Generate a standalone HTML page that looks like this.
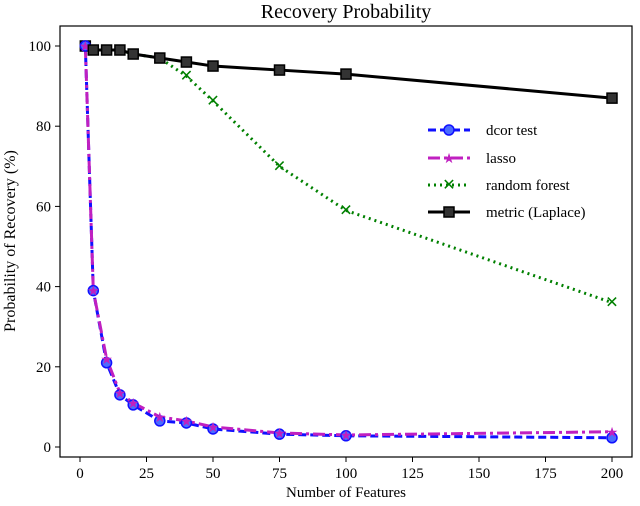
<!DOCTYPE html>
<html><head><meta charset="utf-8"><style>
body{margin:0;background:#fff}
svg text{font-family:"Liberation Serif",serif;fill:#000}
</style></head><body>
<svg id="c" width="640" height="501">
<text x="346" y="18" font-size="20" text-anchor="middle">Recovery Probability</text>
<rect x="60" y="26" width="572" height="431" fill="none" stroke="#000" stroke-width="1.2"/>
<text x="346" y="497" font-size="15" text-anchor="middle">Number of Features</text>
<text transform="translate(15,241) rotate(-90)" font-size="16" text-anchor="middle">Probability of Recovery (%)</text>
<g id="ax"></g><g id="series"></g>
<g font-size="15">
<line x1="428" y1="130" x2="470" y2="130" stroke="#1010ff" stroke-width="3" stroke-dasharray="8,4"/><circle cx="449" cy="130" r="5" fill="#4a6cff" stroke="#1010ff" stroke-width="1.5"/>
<text x="486" y="135">dcor test</text>
<line x1="428" y1="158" x2="470" y2="158" stroke="#c020c0" stroke-width="3" stroke-dasharray="12,4,3,4"/><text x="449" y="163" font-size="14" text-anchor="middle" style="fill:#c020c0">★</text>
<text x="486" y="163">lasso</text>
<line x1="428" y1="185" x2="470" y2="185" stroke="#008000" stroke-width="3" stroke-dasharray="2,4"/><text x="449" y="190" font-size="16" text-anchor="middle" style="fill:#008000">✕</text>
<text x="486" y="190">random forest</text>
<line x1="428" y1="212" x2="470" y2="212" stroke="#000" stroke-width="3"/><rect x="444" y="207" width="10" height="10" fill="#333" stroke="#000" stroke-width="1.5"/>
<text x="486" y="217">metric (Laplace)</text>
</g>
</svg>
<script>
const features=[2,5,10,15,20,30,40,50,75,100,200];
const dcor=[100,39,21,13,10.5,6.5,6,4.5,3.2,2.8,2.3];
const lasso=[100,39,22,13.5,11,7.5,6.5,5,3.5,3,3.8];
const rf=[100,99,99,99,98,97,92.5,86.3,70,59,36];
const metric=[100,99,99,99,98,97,96,95,94,93,87];
const xTicks=[0,25,50,75,100,125,150,175,200];
const yTicks=[0,20,40,60,80,100];
const X=v=>80+v*(612-80)/200, Y=v=>447-v*(447-46)/100;
const NS="http://www.w3.org/2000/svg";
function mk(t,a,p){const e=document.createElementNS(NS,t);for(const k in a)e.setAttribute(k,a[k]);p.appendChild(e);return e;}
const ax=document.getElementById('ax');
xTicks.forEach(t=>{mk('line',{x1:X(t),x2:X(t),y1:457,y2:462,stroke:'#000'},ax);
const tx=mk('text',{x:X(t),y:478,'font-size':15,'text-anchor':'middle'},ax);tx.textContent=t;

});
yTicks.forEach(t=>{mk('line',{x1:55,x2:60,y1:Y(t),y2:Y(t),stroke:'#000'},ax);
const tx=mk('text',{x:51,y:Y(t)+5,'font-size':15,'text-anchor':'end'},ax);tx.textContent=t;

});
const g=document.getElementById('series');
function line(d,col,dash,name){const p=mk('polyline',{points:features.map((f,i)=>X(f)+','+Y(d[i])).join(' '),fill:'none',stroke:col,'stroke-width':3,'stroke-dasharray':dash},g);

}
line(rf,'#008000','2,4','rf-line');
features.forEach((f,i)=>{
const r=mk('text',{x:X(f),y:Y(rf[i])+5,'font-size':16,'text-anchor':'middle',style:'fill:#008000'},g);r.textContent='✕';


});
line(metric,'#000','','metric-line');
line(dcor,'#1010ff','8,4','dcor-line');
line(lasso,'#c020c0','12,4,3,4','lasso-line');
features.forEach((f,i)=>{
const m=mk('rect',{x:X(f)-5,y:Y(metric[i])-5,width:10,height:10,fill:'#333',stroke:'#000','stroke-width':1.5},g);


const c=mk('circle',{cx:X(f),cy:Y(dcor[i]),r:5,fill:'#4a6cff',stroke:'#1010ff','stroke-width':1.5},g);


const s=mk('text',{x:X(f),y:Y(lasso[i])+5,'font-size':14,'text-anchor':'middle',style:'fill:#c020c0'},g);s.textContent='★';


});
</script>
</body></html>
